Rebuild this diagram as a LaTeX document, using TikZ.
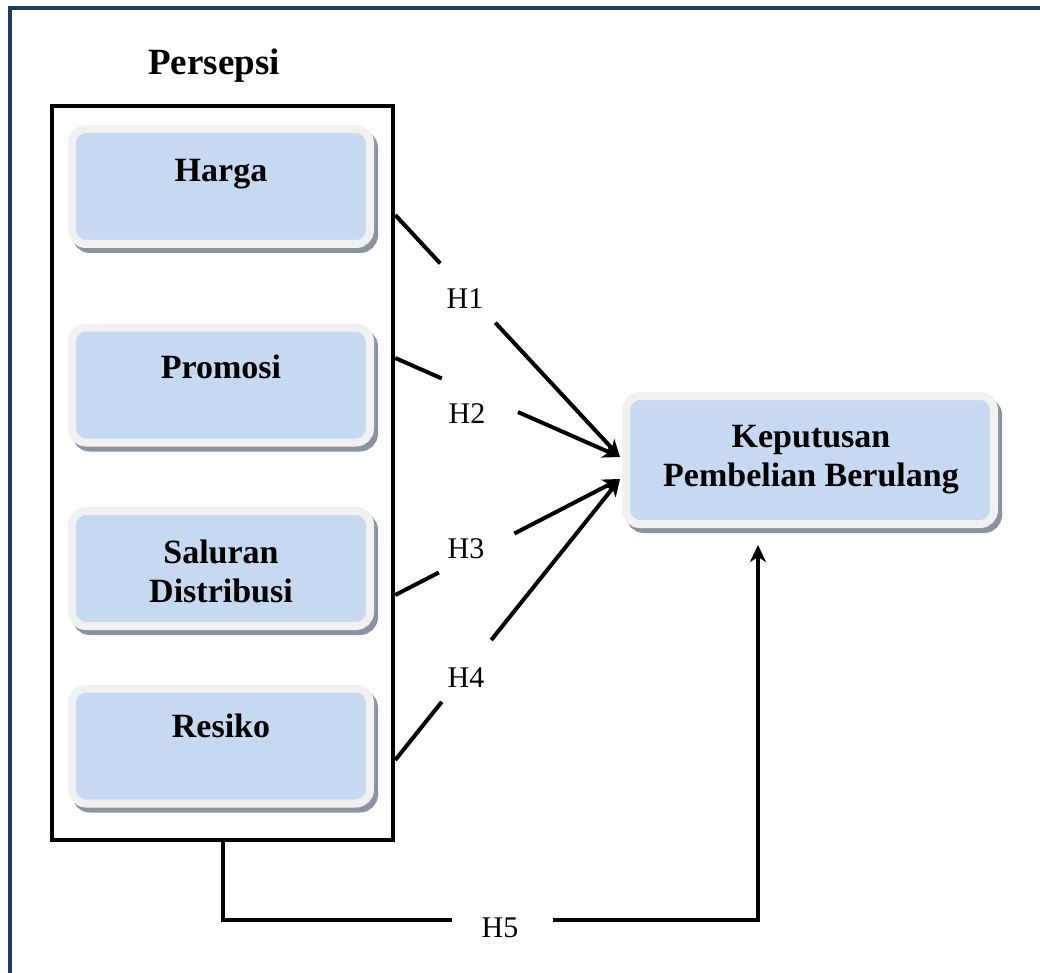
\documentclass[tikz,border=0pt]{standalone}
\usepackage{fontspec}
\setmainfont{Liberation Serif}
\usetikzlibrary{arrows.meta,calc}
\definecolor{framenavy}{RGB}{31,58,96}
\definecolor{boxblue}{RGB}{198,217,240}
\definecolor{rimgray}{RGB}{241,241,241}
\definecolor{shadegray}{RGB}{138,148,160}

\begin{document}
\begin{tikzpicture}[x=1pt,y=-1pt,
  vbox/.style={rectangle, rounded corners=14pt, fill=boxblue, draw=rimgray,
    line width=8pt, inner sep=0pt,
    preaction={draw=shadegray, fill=shadegray, line width=8pt,
      transform canvas={xshift=4pt,yshift=-5pt}}},
  vlabel/.style={font=\fontsize{34}{39}\selectfont\bfseries, anchor=base,
    inner sep=0pt, align=center},
  hlabel/.style={font=\fontsize{30}{34}\selectfont, anchor=base, inner sep=0pt},
  link/.style={line width=4pt},
  arr/.style={link, -{Stealth[length=17pt,width=16pt,inset=5pt]}},
]
\useasboundingbox (0,0) rectangle (1040,973);
\clip (0,0) rectangle (1040,973);
\fill[white] (0,0) rectangle (1040,973);

% page frame (runs past the right and bottom edges)
\draw[framenavy, line width=4.5pt] (10,8) rectangle (1080,1010);

% group frame
\node[vlabel, font=\fontsize{37}{42}\selectfont\bfseries] (title) at (214,75) {Persepsi};
\node[draw, line width=4.5pt, minimum width=341pt, minimum height=734pt,
  inner sep=0pt] (persepsi) at (222.5,473) {};

% variable boxes
\node[vbox, minimum width=298pt, minimum height=115pt] (harga)    at (221,186.5) {};
\node[vbox, minimum width=298pt, minimum height=115pt] (promosi)  at (221,385) {};
\node[vbox, minimum width=298pt, minimum height=115pt] (saluran)  at (221,568.5) {};
\node[vbox, minimum width=298pt, minimum height=115pt] (resiko)   at (221,746) {};
\node[vbox, minimum width=368pt, minimum height=128pt] (keputusan) at (810,460) {};

\node[vlabel] at (221,182) {Harga};
\node[vlabel] at (221,378) {Promosi};
\node[vlabel] at (221,602) {Saluran\\Distribusi};
\node[vlabel] at (221,737) {Resiko};
\node[vlabel] at (811,486) {Keputusan\\Pembelian Berulang};

% hypothesis paths
\coordinate (s1) at (persepsi.east |- 0,215);
\coordinate (s2) at (persepsi.east |- 0,358);
\coordinate (s3) at (persepsi.east |- 0,595);
\coordinate (s4) at (persepsi.east |- 0,760);
\coordinate (t12) at (620,457);
\coordinate (t34) at (620,479);

\node[hlabel] (h1) at (465,308) {H1};
\node[hlabel] (h2) at (467,423) {H2};
\node[hlabel] (h3) at (466,558) {H3};
\node[hlabel] (h4) at (466,687) {H4};
\node[hlabel] (h5) at (500,937) {H5};

\draw[link] (s1) -- ($(s1)!0.20!(t12)$);
\draw[arr]  ($(s1)!0.445!(t12)$) -- (t12);
\draw[link] (s2) -- ($(s2)!0.207!(t12)$);
\draw[arr]  ($(s2)!0.546!(t12)$) -- (t12);
\draw[link] (s3) -- ($(s3)!0.194!(t34)$);
\draw[arr]  ($(s3)!0.53!(t34)$) -- (t34);
\draw[link] (s4) -- ($(s4)!0.207!(t34)$);
\draw[arr]  ($(s4)!0.427!(t34)$) -- (t34);

\coordinate (b5) at (persepsi.south);
\coordinate (k5) at (758,920);
\coordinate (t5) at (758,545);
\draw[link] (b5) |- (452,920);
\draw[arr] (553,920) -- (k5) -- (t5);
\end{tikzpicture}
\end{document}
